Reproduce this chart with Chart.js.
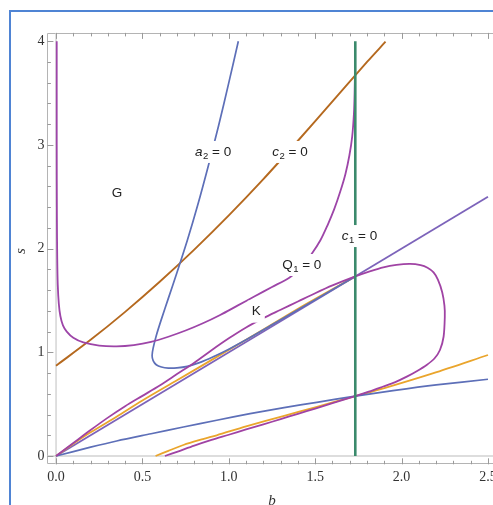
<!DOCTYPE html>
<html><head><meta charset="utf-8">
<script src="https://cdn.jsdelivr.net/npm/chart.js@4"></script>
<style>
html,body{margin:0;padding:0;background:#fff;overflow:hidden;}
#wrap{position:relative;width:493px;height:505px;overflow:hidden;}
#frame{position:absolute;left:9px;top:10px;width:700px;height:700px;border-left:2px solid #4f84d4;border-top:2px solid #4f84d4;pointer-events:none;}
canvas{position:absolute;left:0;top:0;}
</style></head><body>
<div id="wrap"><canvas id="c" width="493" height="505"></canvas><div id="frame"></div></div>
<script>
// ---- tick labels ----
const xTickValues = [0, 0.5, 1, 1.5, 2, 2.5];
const xTickLabels = ['0.0', '0.5', '1.0', '1.5', '2.0', '2.5'];
const yTickValues = [0, 1, 2, 3, 4];
const yTickLabels = ['0', '1', '2', '3', '4'];

// ---- curves (b, s) ----
const c1B = [1.732, 1.732];
const c1S = [0, 4.0];

const q1B = [0.004,0.004,0.005,0.007,0.01,0.016,0.025,0.04,0.062,0.1,0.158,0.25,0.35,0.45,0.55,0.65,0.75,0.85,0.95,1.05,1.15,1.25,1.35,1.42,1.48,1.53,1.57,1.61,1.645,1.675,1.698,1.714,1.724,1.728,1.731];
const q1S = [4.0,3.0,2.3,1.9,1.65,1.47,1.35,1.26,1.2,1.14,1.095,1.065,1.058,1.07,1.1,1.15,1.21,1.28,1.36,1.45,1.54,1.63,1.72,1.82,1.95,2.08,2.22,2.38,2.55,2.72,2.9,3.08,3.3,3.5,3.8];

const kB = [0,0.1,0.2,0.3,0.4,0.5,0.6,0.7,0.8,0.9,1.0,1.1,1.2,1.3,1.4,1.5,1.6,1.732,1.82,1.894,1.97,2.049,2.11,2.15,2.185,2.21,2.235,2.248,2.25,2.243,2.222,2.19,2.145,2.09,2.03,1.96,1.894,1.81,1.732,1.6,1.5,1.4,1.3,1.2,1.1,1.0,0.9,0.8,0.7,0.63];
const kS = [0,0.125,0.25,0.37,0.48,0.58,0.68,0.79,0.9,1.02,1.135,1.24,1.33,1.41,1.49,1.57,1.645,1.732,1.783,1.82,1.843,1.852,1.84,1.815,1.77,1.7,1.58,1.45,1.343,1.15,1.022,0.94,0.878,0.82,0.765,0.71,0.67,0.62,0.577,0.51,0.457,0.407,0.356,0.305,0.256,0.205,0.155,0.1,0.04,0];

const a2B = [1.055,1.0,0.94,0.88,0.82,0.76,0.70,0.65,0.61,0.58,0.562,0.556,0.562,0.58,0.61,0.65,0.7,0.76,0.83,0.91,1.0,1.1,1.25,1.4,1.55,1.732];
const a2S = [4.0,3.6,3.18,2.79,2.42,2.08,1.77,1.52,1.32,1.16,1.04,0.97,0.92,0.88,0.858,0.848,0.85,0.865,0.9,0.957,1.03,1.12,1.265,1.41,1.556,1.732];

const lowBlueB = [0,0.2,0.351,0.55,0.737,0.93,1.123,1.32,1.509,1.732,1.95,2.2,2.5];
const lowBlueS = [0,0.085,0.145,0.215,0.28,0.345,0.408,0.467,0.518,0.577,0.63,0.685,0.74];

const c2B = [0,0.2,0.4,0.6,0.8,1.0,1.2,1.4,1.6,1.8,1.907];
const c2S = [0.871,1.12,1.39,1.68,1.99,2.32,2.67,3.04,3.42,3.8,3.995];

const upOrangeB = [0,0.1,0.2,0.35,0.5,0.7,0.95,1.2,1.45,1.732];
const upOrangeS = [0,0.118,0.228,0.379,0.535,0.73,0.975,1.22,1.468,1.732];

const lowOrangeB = [0.576,0.65,0.737,0.85,0.93,1.1,1.315,1.5,1.732,1.9,2.18,2.5];
const lowOrangeS = [0,0.05,0.106,0.163,0.2,0.285,0.385,0.47,0.577,0.655,0.797,0.974];

const diagB = [0, 2.5];
const diagS = [0, 2.5];

// ---- text labels ----
const labelMain = ['G', 'a', 'c', 'c', 'Q', 'K'];
const labelSub  = ['', '2', '2', '1', '1', ''];
const labelRest = ['', ' = 0', ' = 0', ' = 0', ' = 0', ''];
const labelItalic = [false, true, true, true, false, false];
const labelB = [0.353, 0.909, 1.354, 1.756, 1.422, 1.159];
const labelS = [2.536, 2.932, 2.932, 2.121, 1.842, 1.392];

function pts(bs, ss){ return bs.map((b,i)=>({x:b, y:ss[i]})); }
function ds(bs, ss, color, w, tension){
  return {data: pts(bs, ss), borderColor: color, borderWidth: w, showLine: true,
          pointRadius: 0, tension: tension, fill: false};
}

const datasets = [
  ds(c1B, c1S, '#3b8a6c', 2.6, 0),
  ds(q1B, q1S, '#9d45a8', 1.8, 0.3),
  ds(kB, kS, '#a043a4', 1.8, 0.3),
  ds(a2B, a2S, '#5d6fb8', 1.7, 0.3),
  ds(lowBlueB, lowBlueS, '#5d6fb8', 1.7, 0.3),
  ds(c2B, c2S, '#b5691f', 1.9, 0.3),
  ds(upOrangeB, upOrangeS, '#eaa52c', 1.8, 0.3),
  ds(lowOrangeB, lowOrangeS, '#eaa52c', 1.8, 0.3),
  ds(diagB, diagS, '#7c63ba', 1.8, 0)
];

const SANS = '"Liberation Sans", Arial, sans-serif';
const SERIF = '"Liberation Serif", "Times New Roman", serif';

const decor = {
  id: 'decor',
  beforeDatasetsDraw(chart){
    const {ctx, chartArea: a, scales: {x, y}} = chart;
    ctx.save();
    ctx.strokeStyle = '#b4b4b4'; ctx.lineWidth = 1;
    ctx.beginPath();
    ctx.moveTo(a.right + 5, Math.round(a.top) + 0.5);
    ctx.lineTo(Math.round(a.left) + 0.5, Math.round(a.top) + 0.5);
    ctx.lineTo(Math.round(a.left) + 0.5, Math.round(a.bottom) - 0.5);
    ctx.lineTo(a.right + 5, Math.round(a.bottom) - 0.5);
    ctx.stroke();
    const x0 = x.getPixelForValue(0), y0 = y.getPixelForValue(0);
    ctx.strokeStyle = '#d2d2d2'; ctx.lineWidth = 1.4;
    ctx.beginPath();
    ctx.moveTo(x0, a.top); ctx.lineTo(x0, a.bottom);
    ctx.moveTo(a.left, y0); ctx.lineTo(a.right, y0);
    ctx.stroke();
    ctx.strokeStyle = '#9a9a9a'; ctx.lineWidth = 1;
    ctx.beginPath();
    for (let i = 0; i <= 25; i++){
      const px = Math.round(x.getPixelForValue(i / 10)) + 0.5;
      const len = (i % 5 === 0) ? 6 : 3.5;
      ctx.moveTo(px, a.bottom); ctx.lineTo(px, a.bottom - len);
      ctx.moveTo(px, a.top); ctx.lineTo(px, a.top + len);
    }
    for (let i = 0; i <= 20; i++){
      const py = Math.round(y.getPixelForValue(i / 5)) + 0.5;
      const len = (i % 5 === 0) ? 6 : 3.5;
      ctx.moveTo(a.left, py); ctx.lineTo(a.left + len, py);
    }
    ctx.stroke();
    ctx.restore();
  },
  afterDatasetsDraw(chart){
    const {ctx, scales: {x, y}} = chart;
    ctx.save();
    for (let i = 0; i < labelMain.length; i++){
      const cx = x.getPixelForValue(labelB[i]);
      const cy = y.getPixelForValue(labelS[i]);
      const fMain = (labelItalic[i] ? 'italic ' : '') + '13.5px ' + SANS;
      const fSub = '9.5px ' + SANS;
      const fRest = '13.5px ' + SANS;
      ctx.font = fMain; const w1 = ctx.measureText(labelMain[i]).width;
      ctx.font = fSub; const w2 = labelSub[i] ? ctx.measureText(labelSub[i]).width + 0.5 : 0;
      ctx.font = fRest; const w3 = ctx.measureText(labelRest[i]).width;
      const w = w1 + w2 + w3;
      const pad = 4;
      ctx.fillStyle = '#ffffff';
      ctx.fillRect(cx - w / 2 - pad, cy - 7 - pad, w + 2 * pad, 14 + 2 * pad);
      ctx.fillStyle = '#222222';
      ctx.textBaseline = 'middle'; ctx.textAlign = 'left';
      let xx = cx - w / 2;
      ctx.font = fMain; ctx.fillText(labelMain[i], xx, cy); xx += w1;
      if (labelSub[i]) { ctx.font = fSub; ctx.fillText(labelSub[i], xx + 0.5, cy + 4.5); xx += w2; }
      if (labelRest[i]) { ctx.font = fRest; ctx.fillText(labelRest[i], xx, cy); }
    }
    ctx.fillStyle = '#333333';
    ctx.font = 'italic 15px ' + SERIF;
    ctx.textAlign = 'center'; ctx.textBaseline = 'middle';
    ctx.save();
    ctx.translate(21, 251); ctx.rotate(-Math.PI / 2);
    ctx.fillText('s', 0, 0);
    ctx.restore();
    ctx.textBaseline = 'alphabetic';
    ctx.fillText('b', 272, 505);
    ctx.restore();
  }
};

new Chart(document.getElementById('c'), {
  type: 'scatter',
  data: { datasets },
  options: {
    responsive: false, animation: false, devicePixelRatio: 1,
    layout: { padding: { top: 32.9, right: 0, left: 0, bottom: 0 } },
    plugins: { legend: { display: false }, tooltip: { enabled: false } },
    scales: {
      x: {
        type: 'linear', min: -0.05, max: 2.529,
        grid: { display: false, drawTicks: false }, border: { display: false },
        afterBuildTicks: s => { s.ticks = xTickValues.map(v => ({ value: v })); },
        ticks: { callback: (v, i) => xTickLabels[i], autoSkip: false, maxRotation: 0, minRotation: 0,
                 padding: 5, font: { family: SERIF, size: 14 }, color: '#333333' },
        afterFit: s => { s.height = 40.7; s.paddingLeft = 0; s.paddingRight = 0; }
      },
      y: {
        type: 'linear', min: -0.08, max: 4.08,
        grid: { display: false, drawTicks: false }, border: { display: false },
        afterBuildTicks: s => { s.ticks = yTickValues.map(v => ({ value: v })); },
        ticks: { callback: (v, i) => yTickLabels[i], autoSkip: false,
                 padding: 3, font: { family: SERIF, size: 14 }, color: '#333333' },
        afterFit: s => { s.width = 47.4; s.paddingTop = 0; s.paddingBottom = 0; }
      }
    }
  },
  plugins: [decor]
});
</script>
</body></html>
